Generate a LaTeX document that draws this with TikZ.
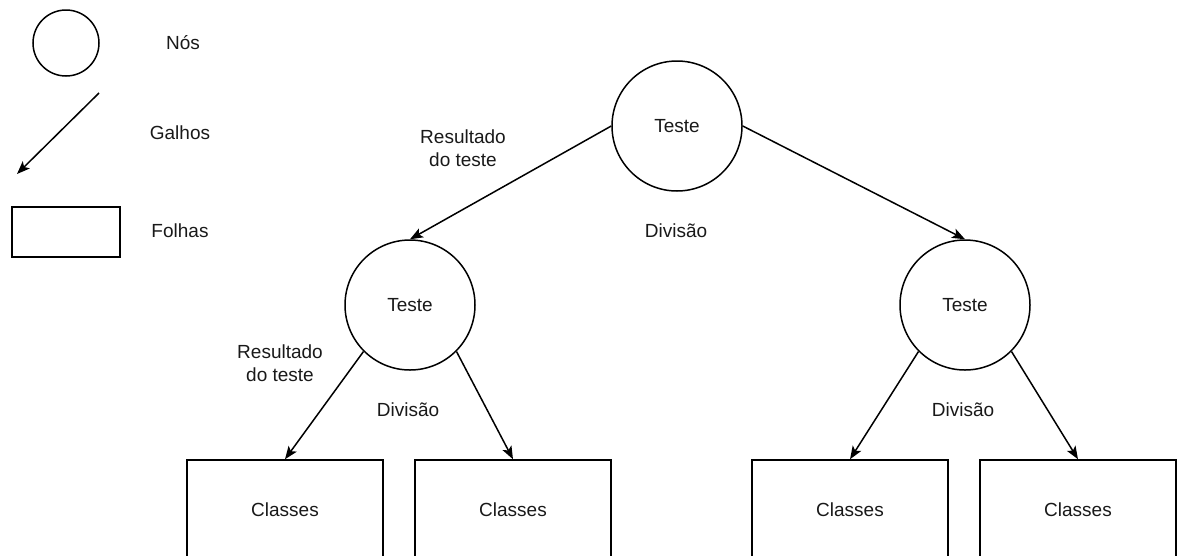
\documentclass[tikz,border=0pt]{standalone}
\usepackage{fontspec}
\setmainfont{Liberation Sans}
\usetikzlibrary{arrows.meta}
\begin{document}
\begin{tikzpicture}[x=1pt,y=-1pt,
  every node/.style={font=\fontsize{19}{23}\selectfont, text=black!90},
  treenode/.style={circle, draw, line width=1.5pt, minimum size=130pt, inner sep=0pt},
  leaf/.style={rectangle, draw, line width=1.5pt, minimum width=196pt, minimum height=100pt, inner sep=0pt},
  lbl/.style={align=center, inner sep=0pt},
  branch/.style={line width=1.5pt, -{Stealth[length=13pt, width=10pt, inset=3pt]}}
]
\useasboundingbox (0,0) rectangle (1181,555);
\clip (0,0) rectangle (1181,555);
% legend
\node[circle, draw, line width=1.5pt, minimum size=66pt, inner sep=0pt] (legnode) at (66,43) {};
\node[lbl] (legnodetxt) at (183,43) {Nós};
\coordinate (legA) at (99,93);
\coordinate (legB) at (17,174);
\draw[branch] (legA) -- (legB);
\node[lbl] (legbranchtxt) at (180,133) {Galhos};
\node[rectangle, draw, line width=1.5pt, minimum width=108pt, minimum height=50pt, inner sep=0pt] (legleaf) at (66,232) {};
\node[lbl] (legleaftxt) at (180,231) {Folhas};
% tree
\node[treenode] (root) at (677,126) {Teste};
\node[treenode] (lchild) at (410,305) {Teste};
\node[treenode] (rchild) at (965,305) {Teste};
\node[leaf] (c1) at (285,510) {Classes};
\node[leaf] (c2) at (513,510) {Classes};
\node[leaf] (c3) at (850,510) {Classes};
\node[leaf] (c4) at (1078,510) {Classes};
\draw[branch] (root.west) -- (lchild.north);
\draw[branch] (root.east) -- (rchild.north);
\draw[branch] (lchild.south west) -- (c1.north);
\draw[branch] (lchild.south east) -- (c2.north);
\draw[branch] (rchild.south west) -- (c3.north);
\draw[branch] (rchild.south east) -- (c4.north);
% labels
\node[lbl] (res1) at (463,148) {Resultado\\do teste};
\node[lbl] (div1) at (676,231) {Divisão};
\node[lbl] (res2) at (280,363) {Resultado\\do teste};
\node[lbl] (div2) at (408,410) {Divisão};
\node[lbl] (div3) at (963,410) {Divisão};
\end{tikzpicture}
\end{document}
